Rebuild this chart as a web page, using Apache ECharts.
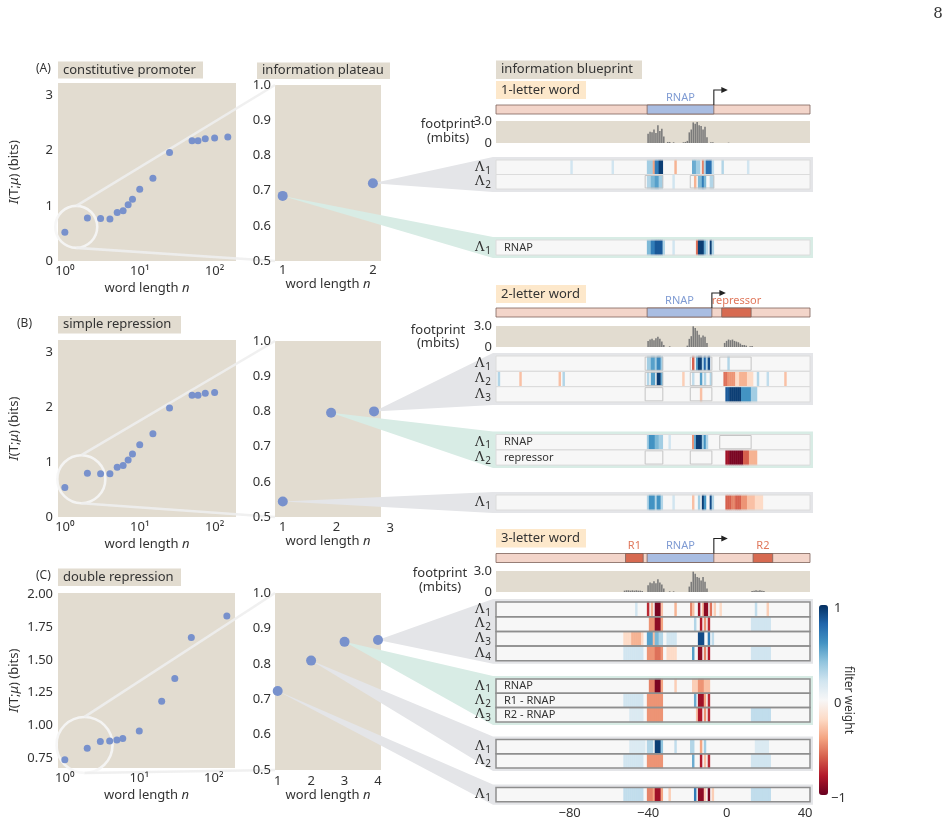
<!DOCTYPE html>
<html><head><meta charset="utf-8">
<script src="https://cdn.jsdelivr.net/npm/echarts@6/dist/echarts.min.js"></script>
<style>html,body{margin:0;padding:0;background:#fff}#c{width:951px;height:823px}</style>
</head><body><div id="c"></div>
<script>
// ---------------- DATA ----------------
// left panels: information vs word length
const wordLenA = [1,2,3,4,5,6,7,8,10,15,25,50,60,75,100,150];
const infoA    = [0.52,0.78,0.77,0.76,0.88,0.91,1.02,1.12,1.30,1.50,1.97,2.18,2.18,2.22,2.23,2.25];
const wordLenB = [1,2,3,4,5,6,7,8,10,15,25,50,60,75,100];
const infoB    = [0.54,0.80,0.79,0.79,0.91,0.94,1.04,1.15,1.32,1.52,1.99,2.22,2.22,2.26,2.27];
const wordLenC = [1,2,3,4,5,6,10,20,30,50,150];
const infoC    = [0.737,0.824,0.877,0.880,0.887,0.90,0.956,1.184,1.357,1.67,1.835];
// middle panels: information plateau
const plateauNA = [1,2];          const plateauA = [0.685,0.721];
const plateauNB = [1,1.9,2.7];    const plateauB = [0.544,0.796,0.800];
const plateauNC = [1,2,3,4];      const plateauC = [0.723,0.809,0.862,0.867];
// sequence positions (bp)
const POS_MIN = -117, POS_MAX = 42;
const bottomTicks = [-80,-40,0,40];
// gene tracks: [label, from, to]
const track1 = [['',-117,42],['RNAP',-40,-7]];              const tss1 = -7;
const track2 = [['',-117,42],['RNAP',-40,-8],['repressor',-2,12]]; const tss2 = -8;
const track3 = [['',-117,42],['R1',-51,-43],['RNAP',-40,-7],['R2',14,23]]; const tss3 = -7;
// footprints (mbits): [pos, value]
const fp1 = [[-40,1.3],[-39,1.6],[-38,1.5],[-37,1.9],[-36,1.4],[-35,2.5],[-34,1.7],[-33,2.0],[-32,0.9],[-30,0.15],[-29,0.15],[-27,0.1],[-22,0.1],[-21,0.15],[-20,0.3],[-19,1.5],[-18,1.9],[-17,2.9],[-16,2.7],[-15,2.95],[-14,2.5],[-13,2.4],[-12,1.9],[-11,2.3],[-10,0.8],[-8,0.1],[-7,0.1],[1,0.05]];
const fp2 = [[-40,0.9],[-39,1.1],[-38,1.2],[-37,1.0],[-36,1.3],[-35,1.5],[-34,1.2],[-33,0.8],[-32,0.3],[-29,0.1],[-20,0.2],[-19,1.2],[-18,1.6],[-17,3.05],[-16,2.8],[-15,2.4],[-14,1.8],[-13,1.4],[-12,1.7],[-11,1.5],[-10,0.6],[-1,0.6],[0,0.9],[1,1.1],[2,1.0],[3,1.1],[4,0.9],[5,0.8],[6,0.7],[7,0.5],[8,0.3],[9,0.3],[10,0.2],[12,0.1],[13,0.15]];
const fp3 = [[-52,0.2],[-51,0.25],[-50,0.25],[-49,0.2],[-48,0.25],[-47,0.2],[-46,0.25],[-45,0.2],[-44,0.2],[-43,0.15],[-40,1.0],[-39,1.4],[-38,1.3],[-37,1.6],[-36,1.3],[-35,1.9],[-34,1.4],[-33,1.1],[-32,0.5],[-29,0.1],[-27,0.1],[-19,0.8],[-18,1.5],[-17,3.0],[-16,2.7],[-15,2.2],[-14,2.1],[-13,1.7],[-12,2.2],[-11,1.5],[-10,0.5],[13,0.15],[14,0.2],[15,0.25],[16,0.2],[17,0.25],[18,0.2],[19,0.15]];
// filter weights, runs [fromPos, toPos, weight]
const w1_L1 = [[-79,-79,0.2],[-58,-58,0.2],[-40,-38,0.35],[-37,-37,-0.4],[-36,-35,0.7],[-34,-33,0.95],[-26,-26,-0.35],[-17,-16,0.5],[-15,-14,0.35],[-12,-12,-0.5],[-11,-11,0.3],[-10,-8,0.75],[-7,-7,0.25],[-2,-2,0.3],[11,11,0.2]];
const w1_L2 = [[-40,-39,0.3],[-38,-37,0.45],[-36,-35,0.55],[-34,-33,0.35],[-27,-27,0.2],[-16,-16,-0.35],[-14,-13,0.45],[-12,-12,0.7],[-11,-11,0.45],[-8,-7,0.3]];
const w1_RNAP = [[-40,-39,0.45],[-38,-37,0.7],[-36,-33,0.85],[-32,-32,0.3],[-27,-27,0.2],[-15,-15,-0.55],[-14,-12,0.95],[-11,-11,0.5],[-10,-10,0.25],[-8,-8,0.95],[-7,-7,0.3]];
const w2_L1 = [[-40,-39,0.35],[-38,-37,0.55],[-36,-36,0.35],[-35,-34,0.65],[-33,-33,0.35],[-17,-17,-0.6],[-15,-15,0.55],[-14,-13,0.95],[-12,-12,0.3],[-11,-11,0.8],[-10,-10,0.3],[-9,-9,0.9],[1,1,0.3]];
const w2_L2 = [[-116,-116,0.3],[-105,-105,-0.3],[-85,-85,-0.3],[-83,-83,0.3],[-40,-40,0.3],[-38,-37,0.55],[-35,-34,0.95],[-33,-33,0.5],[-22,-22,-0.25],[-17,-17,0.25],[-13,-13,0.55],[-11,-11,0.3],[-8,-8,0.3],[-1,0,-0.55],[1,4,-0.45],[5,6,-0.2],[7,10,-0.35],[11,13,-0.2],[16,16,0.3],[21,21,0.25],[30,30,-0.3]];
const w2_L3 = [[-13,-13,-0.3],[0,1,0.85],[2,7,0.95],[8,12,0.6],[13,15,0.35]];
const w2_RNAP = [[-40,-40,0.35],[-39,-37,0.6],[-36,-35,0.45],[-34,-33,0.35],[-29,-29,0.2],[-17,-17,-0.45],[-16,-16,0.5],[-15,-13,0.95],[-12,-12,0.35],[-11,-11,0.6],[-10,-10,0.3]];
const w2_rep = [[0,1,-0.85],[2,8,-0.95],[9,11,-0.6],[12,15,-0.35]];
const w2_one = [[-40,-40,0.3],[-39,-37,0.6],[-36,-36,0.3],[-35,-34,0.6],[-33,-33,0.3],[-27,-27,0.2],[-17,-17,-0.3],[-14,-14,0.35],[-12,-12,0.95],[-11,-11,0.6],[-8,-8,0.9],[-7,-7,0.3],[0,2,-0.6],[3,4,-0.5],[5,7,-0.6],[8,10,-0.45],[11,14,-0.3],[15,18,-0.2]];
const w3_L1 = [[-46,-46,0.2],[-40,-40,-0.75],[-38,-38,-0.35],[-36,-34,-0.95],[-33,-33,-0.3],[-26,-26,-0.35],[-18,-18,-0.5],[-17,-17,-0.3],[-14,-14,-0.85],[-12,-12,-0.3],[-11,-10,-0.9],[-8,-8,-0.55],[-6,-6,-0.25],[-3,-3,-0.2],[15,15,0.25],[21,21,-0.25]];
const w3_L2 = [[-39,-37,-0.45],[-36,-34,-0.9],[-33,-33,-0.4],[-16,-16,0.3],[-13,-13,-0.8],[-11,-11,-0.45],[-9,-9,-0.75],[13,22,0.2]];
const w3_L3 = [[-52,-49,-0.2],[-48,-44,-0.35],[-43,-43,-0.2],[-40,-38,0.55],[-37,-37,-0.3],[-36,-35,0.45],[-34,-33,0.3],[-30,-26,0.2],[-14,-12,0.9],[-9,-9,0.7],[-7,-7,0.25]];
const w3_L4 = [[-52,-43,0.2],[-40,-37,-0.45],[-36,-34,-0.55],[-33,-33,-0.45],[-30,-26,-0.2],[-17,-17,0.55],[-14,-13,-0.9],[-11,-11,-0.5],[-9,-9,-0.8],[13,22,0.2]];
const w3_RNAP = [[-39,-37,-0.5],[-36,-34,-0.95],[-33,-33,-0.4],[-26,-26,-0.25],[-17,-15,-0.25],[-14,-12,-0.45],[-11,-9,-0.3]];
const w3_R1 = [[-52,-43,0.2],[-40,-33,-0.45],[-16,-16,0.5],[-14,-12,-0.85],[-11,-11,-0.4],[-9,-9,-0.75]];
const w3_R2 = [[-49,-43,0.15],[-40,-33,-0.45],[-15,-15,-0.3],[-14,-13,-0.8],[-11,-11,-0.45],[-9,-9,-0.75],[13,22,0.25]];
const w3_two1 = [[-49,-42,0.15],[-40,-38,0.3],[-36,-34,0.95],[-33,-33,0.4],[-26,-26,0.25],[-18,-17,0.3],[-13,-13,-0.4],[-11,-11,0.35],[15,21,0.15]];
const w3_two2 = [[-52,-43,0.2],[-40,-33,-0.45],[-17,-17,0.5],[-13,-13,-0.8],[-11,-11,-0.3],[-9,-9,-0.75],[13,22,0.2]];
const w3_one = [[-52,-43,0.25],[-40,-38,-0.5],[-37,-37,-0.4],[-36,-34,-0.85],[-33,-33,-0.4],[-29,-29,-0.25],[-16,-16,0.7],[-14,-12,-0.9],[-11,-11,-0.25],[-9,-9,-0.95],[-7,-7,-0.25],[13,22,0.25]];

// ---------------- STYLE / LAYOUT ----------------
const FONT = 'Noto Sans';
const TAN = '#e2dcd0', MARK = '#7891cc', TXT = '#333';
const RDBU = ['#67001f','#b2182b','#d6604d','#f4a582','#fddbc7','#f7f7f7','#d1e5f0','#92c5de','#4393c3','#2166ac','#053061'];
const SUP = ['⁰','¹','²','³'];
const POS = []; for (let p = POS_MIN; p <= POS_MAX; p++) POS.push(String(p));
const BX = 496, BW = 314;
const AX = {color:TXT, fontFamily:FONT, fontSize:13};
const nameRich = {r:{fontFamily:FONT,fontSize:13,color:TXT}, i:{fontFamily:FONT,fontSize:13,color:TXT,fontStyle:'italic'}};
const noLine = {axisLine:{show:false}, axisTick:{show:false}, splitLine:{show:false}, z:6};

const grids = [], xAxes = [], yAxes = [], series = [], heatIdx = [];
function addGrid(g, xa, ya) {
  const i = grids.length;
  grids.push(g); xAxes.push(Object.assign({gridIndex:i}, xa)); yAxes.push(Object.assign({gridIndex:i}, ya));
  return i;
}
function logFmt(v) { const l = Math.log10(v); return Math.abs(l - Math.round(l)) < 1e-6 ? '10' + SUP[Math.round(l)] : ''; }

function leftPanel(rect, ns, vals, yMin, yMax, yTicks, yFmt) {
  const gi = addGrid({left:rect[0], top:rect[1], width:rect[2], height:rect[3], show:true, backgroundColor:TAN, borderWidth:0},
    Object.assign({type:'log', logBase:10, min:0.81, max:193, axisLabel:Object.assign({margin:4, formatter:logFmt}, AX),
      name:'{r|word length }{i|n}', nameLocation:'middle', nameGap:21, nameTextStyle:{rich:nameRich}}, noLine),
    Object.assign({type:'value', min:yMin, max:yMax, axisLabel:Object.assign({margin:5, customValues:yTicks, formatter:yFmt}, AX),
      name:'{i|I}{r|(T;}{i|μ}{r|) (bits)}', nameLocation:'middle', nameGap:37, nameTextStyle:{rich:nameRich}}, noLine));
  series.push({type:'scatter', xAxisIndex:gi, yAxisIndex:gi, data:ns.map((n,k)=>[n, vals[k]]), symbolSize:7, itemStyle:{color:MARK, opacity:1}, silent:true, z:3});
  return gi;
}
function midPanel(rect, xMin, xMax, xTicks, ns, vals, labMargin, nameGap) {
  const gi = addGrid({left:rect[0], top:rect[1], width:rect[2], height:rect[3], show:true, backgroundColor:TAN, borderWidth:0},
    Object.assign({type:'value', min:xMin, max:xMax, axisLabel:Object.assign({margin:labMargin, customValues:xTicks}, AX),
      name:'{r|word length }{i|n}', nameLocation:'middle', nameGap:nameGap, nameTextStyle:{rich:nameRich}}, noLine),
    Object.assign({type:'value', min:0.5, max:1.0, axisLabel:Object.assign({margin:4, customValues:[0.5,0.6,0.7,0.8,0.9,1.0], formatter:v=>v.toFixed(1)}, AX)}, noLine));
  series.push({type:'scatter', xAxisIndex:gi, yAxisIndex:gi, data:ns.map((n,k)=>[n, vals[k]]), symbolSize:10, itemStyle:{color:MARK, opacity:1}, silent:true, z:3});
  return gi;
}

const gA = leftPanel([58,83,178,178], wordLenA, infoA, 0, 3.23, [0,1,2,3], v=>String(v));
const gB = leftPanel([58,340,178,177], wordLenB, infoB, 0, 3.23, [0,1,2,3], v=>String(v));
const gC = leftPanel([58,593,177,175], wordLenC, infoC, 0.674, 2.01, [0.75,1,1.25,1.5,1.75,2], v=>v.toFixed(2));
const mA = midPanel([275,85,106,176], 0.915, 2.09, [1,2], plateauNA, plateauA, 3, 13);
const mB = midPanel([275,341,106,176], 0.855, 2.83, [1,2], plateauNB, plateauB, 4, 16);
const mC = midPanel([275,593,106,177], 0.92, 4.09, [1,2,3,4], plateauNC, plateauC, 5, 19);

const SITE_FILL = {'':'#f3d5ca', 'RNAP':'#a9bde2'};
const SITE_TXT = {'RNAP':'#7f9bd3'};
function trackGrid(top, height, segs, tss) {
  const gi = addGrid({left:BX, top, width:BW, height},
    {type:'category', data:POS, show:false}, {type:'value', min:0, max:1, show:false});
  series.push({type:'custom', xAxisIndex:gi, yAxisIndex:gi, silent:true, z:3,
    data: segs.map(s => [s[1]-POS_MIN, s[2]-POS_MIN]),
    renderItem: (params, api) => {
      const s = segs[params.dataIndex];
      const bw = api.size([1,0])[0];
      const x0 = api.coord([api.value(0), 0])[0] - bw/2;
      const x1 = api.coord([api.value(1), 0])[0] + bw/2;
      const cs = params.coordSys, barH = 9, yb = cs.y + cs.height;
      const fill = SITE_FILL[s[0]] || '#d76a51';
      const ch = [{type:'rect', shape:{x:x0, y:yb-barH, width:x1-x0, height:barH}, style:{fill, stroke:'#7d625b', lineWidth:0.8}}];
      if (s[0]) ch.push({type:'text', style:{text:s[0], x:(x0+x1)/2, y:yb-barH-7.5, fill:SITE_TXT[s[0]]||'#e0785c', font:'11px "Noto Sans"', textAlign:'center', textVerticalAlign:'middle', align:'center', verticalAlign:'middle'}});
      return {type:'group', children:ch};
    }});
  series.push({type:'custom', xAxisIndex:gi, yAxisIndex:gi, silent:true, z:4, data:[[tss-POS_MIN, 0]],
    renderItem: (params, api) => {
      const bw = api.size([1,0])[0];
      const x = api.coord([api.value(0), 0])[0] + bw/2;
      const cs = params.coordSys, yt = cs.y + cs.height - 9, yh = yt - 15;
      return {type:'group', children:[
        {type:'polyline', shape:{points:[[x,yt],[x,yh],[x+8,yh]]}, style:{stroke:'#222', lineWidth:1.1, fill:'none'}},
        {type:'polygon', shape:{points:[[x+7.5,yh-3],[x+14,yh],[x+7.5,yh+3]]}, style:{fill:'#222'}}]};
    }});
}
function fpGrid(top, height, data) {
  const gi = addGrid({left:BX, top, width:BW, height, show:true, backgroundColor:TAN, borderWidth:0},
    Object.assign({type:'category', data:POS, axisLabel:{show:false}}, noLine),
    Object.assign({type:'value', min:0, max:3.1, axisLabel:Object.assign({margin:4, customValues:[0,3], formatter:v=>v===3?'3.0':'0'}, AX)}, noLine));
  series.push({type:'bar', xAxisIndex:gi, yAxisIndex:gi, data:data.map(([p,v])=>[p-POS_MIN, v]), barWidth:'80%', itemStyle:{color:'#7a7a7a'}, silent:true});
}

const groups = [];
function heatGroup(g) {
  const gi = addGrid({left:BX, top:g.top, width:BW, height:g.rowH*g.rows.length, show:true, backgroundColor:'#f7f7f7', borderWidth:0},
    Object.assign({type:'category', data:POS,
      axisLabel: g.axis ? Object.assign({margin:5, interval:(i,v)=>bottomTicks.indexOf(+v)>=0, formatter:v=>v.replace('-','−')}, AX) : {show:false}}, noLine),
    Object.assign({type:'category', inverse:true, data:g.rows.map((_,r)=>String(r+1)),
      axisLabel:{margin:5, interval:0, formatter:v=>'{a|Λ}{b|'+v+'}', rich:{a:{fontFamily:'DejaVu Serif', fontSize:13, color:TXT}, b:{fontFamily:FONT, fontSize:10, color:TXT, padding:[7,0,0,1]}}}}, noLine));
  const data = [];
  g.rows.forEach((runs, r) => runs.forEach(([a,b,v]) => { for (let p = a; p <= b; p++) data.push([p-POS_MIN, r, v]); }));
  heatIdx.push(series.length);
  series.push({type:'heatmap', xAxisIndex:gi, yAxisIndex:gi, data, itemStyle:{borderWidth:0}, emphasis:{disabled:true}, silent:true, progressive:0});
  if (g.boxes) series.push({type:'custom', xAxisIndex:gi, yAxisIndex:gi, silent:true, z:4,
    data: g.boxes.map(([r,a,b]) => [a-POS_MIN, r, b-POS_MIN]),
    renderItem: (params, api) => {
      const bw = api.size([1,0])[0], bh = api.size([0,1])[1];
      const c0 = api.coord([api.value(0), api.value(1)]), c1 = api.coord([api.value(2), api.value(1)]);
      return {type:'rect', shape:{x:c0[0]-bw/2, y:c0[1]-bh/2+1, width:c1[0]-c0[0]+bw, height:bh-2}, style:{fill:'none', stroke:'#c4c4c4', lineWidth:1}};
    }});
  series.push({type:'custom', xAxisIndex:gi, yAxisIndex:gi, silent:true, z:5,
    data: g.rows.map((_,r) => [0, r]),
    renderItem: (params, api) => {
      const cs = params.coordSys, bh = api.size([0,1])[1], c = api.coord([0, api.value(1)]);
      return {type:'rect', shape:{x:cs.x, y:c[1]-bh/2, width:cs.width, height:bh},
        style:{fill:'none', stroke: g.dark ? '#8e8e8e' : '#dcdcdc', lineWidth: g.dark ? 1.5 : 1}};
    }});
  g.gi = gi; groups.push(g);
}

trackGrid(86, 28, track1, tss1);
fpGrid(121, 22, fp1);
heatGroup({top:160, rowH:14.5, rows:[w1_L1,w1_L2], kind:'gray', apex:[mA, plateauNA, plateauA, 1], boxes:[[1,-41,-33],[1,-18,-7]]});
heatGroup({top:240, rowH:15, rows:[w1_RNAP], kind:'teal', apex:[mA, plateauNA, plateauA, 0], inner:['RNAP']});
trackGrid(290, 27, track2, tss2);
fpGrid(326, 21, fp2);
heatGroup({top:356, rowH:15.3, rows:[w2_L1,w2_L2,w2_L3], kind:'gray', apex:[mB, plateauNB, plateauB, 2], boxes:[[0,-41,-33],[0,-18,-8],[0,-3,12],[1,-41,-33],[1,-18,-8],[2,-41,-33],[2,-18,-8]]});
heatGroup({top:434.5, rowH:15.3, rows:[w2_RNAP,w2_rep], kind:'teal', apex:[mB, plateauNB, plateauB, 1], inner:['RNAP','repressor'], boxes:[[0,-3,12],[1,-41,-33],[1,-18,-8]]});
heatGroup({top:495, rowH:15, rows:[w2_one], kind:'gray', apex:[mB, plateauNB, plateauB, 0]});
trackGrid(535, 27.5, track3, tss3);
fpGrid(571, 21, fp3);
heatGroup({top:602, rowH:14.7, rows:[w3_L1,w3_L2,w3_L3,w3_L4], kind:'gray', dark:true, apex:[mC, plateauNC, plateauC, 3]});
heatGroup({top:679, rowH:14.3, rows:[w3_RNAP,w3_R1,w3_R2], kind:'teal', dark:true, apex:[mC, plateauNC, plateauC, 2], inner:['RNAP','R1 - RNAP','R2 - RNAP']});
heatGroup({top:739.5, rowH:14.2, rows:[w3_two1,w3_two2], kind:'gray', dark:true, apex:[mC, plateauNC, plateauC, 1]});
heatGroup({top:787.5, rowH:14.3, rows:[w3_one], kind:'gray', dark:true, apex:[mC, plateauNC, plateauC, 0], axis:true});

const option = {
  animation:false,
  textStyle:{fontFamily:FONT},
  grid:grids, xAxis:xAxes, yAxis:yAxes, series,
  visualMap:[{type:'continuous', min:-1, max:1, seriesIndex:heatIdx, calculable:false, orient:'vertical',
    left:819, top:605, itemWidth:9, itemHeight:190, padding:0, showLabel:false, hoverLink:false,
    inRange:{color:RDBU}}]
};
const chart = echarts.init(document.getElementById('c'));
chart.setOption(option);

// ---------------- decorations (computed via the library's scales) ----------------
const G = [];
const px = (gi, pt) => chart.convertToPixel({gridIndex:gi}, pt);
function txt(x, y, text, o) {
  G.push(Object.assign({type:'text', z:10, silent:true, style:Object.assign({text, x, y, fill:TXT, font:'13px "Noto Sans"', textAlign:'left', textVerticalAlign:'middle', align:'left', verticalAlign:'middle'}, o||{})}));
}
function box(x, y, w, h, fill, label) {
  G.push({type:'rect', z:1, silent:true, shape:{x, y, width:w, height:h}, style:{fill}});
  txt(x+5, y+h/2, label);
}
box(58, 61.5, 145, 17, TAN, 'constitutive promoter');
box(58, 316, 123, 17.5, TAN, 'simple repression');
box(58, 568.5, 123, 17.5, TAN, 'double repression');
box(257, 62.5, 133, 16.5, TAN, 'information plateau');
box(496, 60.5, 146, 18.5, TAN, 'information blueprint');
box(496, 81, 90, 18, '#fde8cb', '1-letter word');
box(496, 285, 90, 18, '#fde8cb', '2-letter word');
box(496, 529, 90, 18.5, '#fde8cb', '3-letter word');
txt(36, 69, '(A)', {font:'12px "Noto Sans"'});
txt(17, 324, '(B)', {font:'12px "Noto Sans"'});
txt(36, 576, '(C)', {font:'12px "Noto Sans"'});
txt(938, 14, '8', {font:'15px "DejaVu Serif"', textAlign:'center', align:'center'});
// footprint labels
[[124.5,138.5,448],[330,343.5,438],[573.5,587.5,440]].forEach(([y1,y2,cx]) => {
  txt(cx, y1, 'footprint', {textAlign:'center', align:'center'});
  txt(cx, y2, '(mbits)', {textAlign:'center', align:'center'});
});
// colorbar labels
txt(834, 608, '1'); txt(834, 703, '0'); txt(831, 798, '−1');
G.push({type:'text', z:10, silent:true, x:848, y:700, rotation:-Math.PI/2, style:{text:'filter weight', x:0, y:0, fill:TXT, font:'12px "Noto Sans"', textAlign:'center', textVerticalAlign:'middle', align:'center', verticalAlign:'middle'}});
// missing "3" tick label of the middle B panel
const p3 = px(mB, [3, 0.5]); txt(p3[0], p3[1]+11, '3', {textAlign:'center', align:'center'});

// magnifier circles and connector lines
[[gA, mA, [1.42, 0.62], 21], [gB, mB, [1.66, 0.69], 24], [gC, mC, [1.84, 0.85], 28]].forEach(([gi, mi, c, r]) => {
  const cp = px(gi, c);
  const mr = grids[mi];
  G.push({type:'circle', z:1, silent:true, shape:{cx:cp[0], cy:cp[1], r}, style:{fill:'none', stroke:'rgba(246,246,246,0.9)', lineWidth:2.6}});
  G.push({type:'line', z:1, silent:true, shape:{x1:cp[0], y1:cp[1]-r, x2:mr.left, y2:mr.top}, style:{stroke:'rgba(238,238,238,0.9)', lineWidth:2.6}});
  G.push({type:'line', z:1, silent:true, shape:{x1:cp[0], y1:cp[1]+r, x2:mr.left, y2:mr.top+mr.height}, style:{stroke:'rgba(238,238,238,0.9)', lineWidth:2.6}});
});
// frames and wedges of blueprint groups
groups.forEach(g => {
  const h = g.rowH * g.rows.length;
  const col = g.kind === 'teal' ? '#d8ece5' : '#e4e5e8';
  G.push({type:'rect', z:1, silent:true, shape:{x:BX-1.5, y:g.top-1.5, width:BW+3, height:h+3}, style:{fill:'none', stroke:col, lineWidth:3}});
  const [mi, xs, ys, k] = g.apex;
  const a = px(mi, [xs[k], ys[k]]);
  G.push({type:'polygon', z:1, silent:true, shape:{points:[a, [BX-3, g.top-3], [BX-3, g.top+h+3]]}, style:{fill:col}});
  (g.inner||[]).forEach((t, r) => txt(BX+8, g.top + g.rowH*(r+0.5), t, {font:'11px "Noto Sans"'}));
});
chart.setOption({graphic:{elements:G}});
</script></body></html>
